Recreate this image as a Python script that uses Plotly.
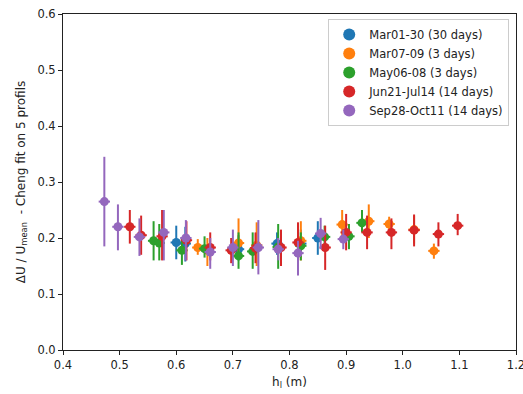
import plotly.graph_objects as go

names = ["Mar01-30 (30 days)", "Mar07-09 (3 days)", "May06-08 (3 days)",
         "Jun21-Jul14 (14 days)", "Sep28-Oct11 (14 days)"]
colors = ["#1f77b4", "#ff7f0e", "#2ca02c", "#d62728", "#9467bd"]

# Mar01-30
blue_x = [0.600, 0.616, 0.710, 0.778, 0.820, 0.850]
blue_y = [0.192, 0.190, 0.180, 0.190, 0.190, 0.200]
blue_lo = [0.162, 0.158, 0.160, 0.170, 0.165, 0.170]
blue_hi = [0.222, 0.220, 0.205, 0.210, 0.215, 0.230]

# Mar07-09
orange_x = [0.638, 0.655, 0.710, 0.742, 0.820, 0.893, 0.940, 0.976, 1.020, 1.055]
orange_y = [0.183, 0.178, 0.191, 0.187, 0.195, 0.224, 0.230, 0.225, 0.215, 0.177]
orange_lo = [0.170, 0.150, 0.165, 0.150, 0.160, 0.200, 0.200, 0.210, 0.190, 0.163]
orange_hi = [0.198, 0.200, 0.235, 0.228, 0.230, 0.250, 0.260, 0.238, 0.240, 0.190]

# May06-08
green_x = [0.560, 0.570, 0.610, 0.650, 0.710, 0.735, 0.780, 0.820, 0.862, 0.905, 0.928]
green_y = [0.195, 0.191, 0.178, 0.181, 0.168, 0.176, 0.184, 0.186, 0.202, 0.203, 0.227]
green_lo = [0.160, 0.160, 0.152, 0.165, 0.145, 0.145, 0.145, 0.160, 0.180, 0.180, 0.210]
green_hi = [0.230, 0.225, 0.200, 0.203, 0.210, 0.210, 0.225, 0.210, 0.222, 0.225, 0.250]

# Jun21-Jul14
red_x = [0.518, 0.538, 0.575, 0.618, 0.660, 0.697, 0.740, 0.785, 0.815,
         0.863, 0.900, 0.937, 0.980, 1.020, 1.063, 1.097]
red_y = [0.220, 0.205, 0.203, 0.196, 0.183, 0.178, 0.182, 0.183, 0.192,
         0.183, 0.210, 0.210, 0.210, 0.214, 0.207, 0.222]
red_lo = [0.190, 0.170, 0.160, 0.160, 0.160, 0.155, 0.155, 0.150, 0.160,
          0.143, 0.178, 0.180, 0.180, 0.185, 0.185, 0.205]
red_hi = [0.250, 0.240, 0.250, 0.230, 0.210, 0.200, 0.210, 0.215, 0.228,
          0.222, 0.243, 0.240, 0.235, 0.242, 0.228, 0.243]

# Sep28-Oct11
purple_x = [0.473, 0.497, 0.535, 0.578, 0.617, 0.660, 0.700, 0.745, 0.780, 0.815, 0.855, 0.895]
purple_y = [0.265, 0.220, 0.202, 0.210, 0.200, 0.175, 0.183, 0.183, 0.180, 0.173, 0.208, 0.198]
purple_lo = [0.185, 0.178, 0.168, 0.160, 0.160, 0.145, 0.150, 0.135, 0.160, 0.133, 0.180, 0.180]
purple_hi = [0.345, 0.260, 0.235, 0.250, 0.232, 0.200, 0.215, 0.232, 0.200, 0.195, 0.236, 0.215]

x_err = 0.010

series = [
    (blue_x, blue_y, blue_lo, blue_hi),
    (orange_x, orange_y, orange_lo, orange_hi),
    (green_x, green_y, green_lo, green_hi),
    (red_x, red_y, red_lo, red_hi),
    (purple_x, purple_y, purple_lo, purple_hi),
]

fig = go.Figure()
for (xs, ys, lo, hi), name, col in zip(series, names, colors):
    fig.add_trace(go.Scatter(
        x=xs, y=ys, mode="markers", name=name,
        marker=dict(color=col, size=9, symbol="circle"),
        error_y=dict(type="data", symmetric=False,
                     array=[h - y for h, y in zip(hi, ys)],
                     arrayminus=[y - l for y, l in zip(ys, lo)],
                     color=col, thickness=2, width=0),
        error_x=dict(type="constant", value=x_err, color=col, thickness=2, width=0),
    ))

axis_common = dict(showgrid=False, zeroline=False, showline=True, linecolor="#222",
                   linewidth=1, mirror=True, ticks="outside", ticklen=4,
                   tickcolor="#222", automargin=False,
                   tickfont=dict(size=11.5, color="#222"))

fig.update_layout(
    width=523, height=394,
    margin=dict(l=63, r=7, t=14, b=44),
    paper_bgcolor="white", plot_bgcolor="white",
    font=dict(family="DejaVu Sans", size=12, color="#222"),
    xaxis=dict(range=[0.4, 1.2], tickvals=[0.4, 0.5, 0.6, 0.7, 0.8, 0.9, 1.0, 1.1, 1.2],
               tickformat=".1f", ticklabeloverflow="allow",
               title=dict(text="h<sub>l</sub> (m)", font=dict(size=12), standoff=6),
               **axis_common),
    yaxis=dict(range=[0, 0.6], tickvals=[0, 0.1, 0.2, 0.3, 0.4, 0.5, 0.6],
               tickformat=".1f",
               title=dict(text="ΔU / U<sub>mean</sub>  - Cheng fit on 5 profils",
                          font=dict(size=12), standoff=9),
               **axis_common),
    legend=dict(x=0.985, y=0.985, xanchor="right", yanchor="top",
                bgcolor="rgba(255,255,255,0.85)", bordercolor="#ccc", borderwidth=1,
                font=dict(size=11.5), tracegroupgap=0, itemsizing="constant",
                itemwidth=30),
    showlegend=True,
)

fig.write_html("out.html", config={"displayModeBar": False},
               post_script="document.body.style.margin='0';")
